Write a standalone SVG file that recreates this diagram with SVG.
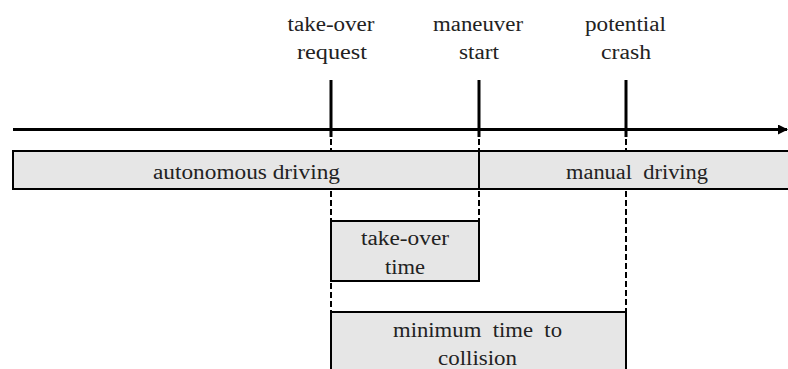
<svg xmlns="http://www.w3.org/2000/svg" width="788" height="369" viewBox="0 0 788 369">
<style>
text{font-family:"Liberation Serif","Times New Roman",serif;font-size:20px;fill:#222;text-anchor:middle}
.box{fill:#e6e6e6;stroke:#000;stroke-width:2}
.tick{stroke:#000;stroke-width:3;fill:none}
.dash{stroke:#000;stroke-width:2;stroke-dasharray:6 3;fill:none}
</style>
<defs>
<marker id="arr" markerWidth="10" markerHeight="10" refX="9" refY="5" orient="auto" markerUnits="userSpaceOnUse">
<path d="M0,0 L10,5 L0,10 Z" fill="#000"/>
</marker>
</defs>
<rect width="788" height="369" fill="#fff"/>
<g id="connectors">
<line class="tick" x1="13" y1="129.5" x2="787" y2="129.5" marker-end="url(#arr)"/>
<line class="tick" x1="331" y1="80" x2="331" y2="137"/>
<line class="tick" x1="479" y1="80" x2="479" y2="137"/>
<line class="tick" x1="626" y1="80" x2="626" y2="137"/>
<line class="dash" x1="331" y1="139" x2="331" y2="151"/>
<line class="dash" x1="331" y1="191" x2="331" y2="221"/>
<line class="dash" x1="331" y1="283" x2="331" y2="312"/>
<line class="dash" x1="479" y1="139" x2="479" y2="151"/>
<line class="dash" x1="479" y1="191" x2="479" y2="221"/>
<line class="dash" x1="626" y1="139" x2="626" y2="151"/>
<line class="dash" x1="626" y1="191" x2="626" y2="312"/>
</g>
<g id="label-takeover-request">
<text x="331" y="31" textLength="87" lengthAdjust="spacingAndGlyphs">take-over</text>
<text x="332" y="59" textLength="70" lengthAdjust="spacingAndGlyphs">request</text>
</g>
<g id="label-maneuver-start">
<text x="478" y="31" textLength="90" lengthAdjust="spacingAndGlyphs">maneuver</text>
<text x="479" y="59" textLength="40" lengthAdjust="spacingAndGlyphs">start</text>
</g>
<g id="label-potential-crash">
<text x="625.5" y="31" textLength="81" lengthAdjust="spacingAndGlyphs">potential</text>
<text x="626" y="59" textLength="50" lengthAdjust="spacingAndGlyphs">crash</text>
</g>
<g id="autonomous-driving">
<rect class="box" x="13" y="151" width="466" height="38"/>
<text x="246.5" y="179" textLength="187" lengthAdjust="spacingAndGlyphs">autonomous driving</text>
</g>
<g id="manual-driving">
<rect class="box" x="479" y="151" width="312" height="38"/>
<text x="637" y="179" textLength="142" lengthAdjust="spacingAndGlyphs" xml:space="preserve">manual  driving</text>
</g>
<g id="takeover-time">
<rect class="box" x="331" y="221" width="148" height="60"/>
<text x="405" y="245" textLength="88" lengthAdjust="spacingAndGlyphs">take-over</text>
<text x="405" y="274" textLength="40" lengthAdjust="spacingAndGlyphs">time</text>
</g>
<g id="min-ttc">
<rect class="box" x="331" y="312" width="295" height="70"/>
<text x="477.5" y="337" textLength="169" lengthAdjust="spacingAndGlyphs" xml:space="preserve">minimum  time  to</text>
<text x="477.5" y="365" textLength="79" lengthAdjust="spacingAndGlyphs">collision</text>
</g>
</svg>
